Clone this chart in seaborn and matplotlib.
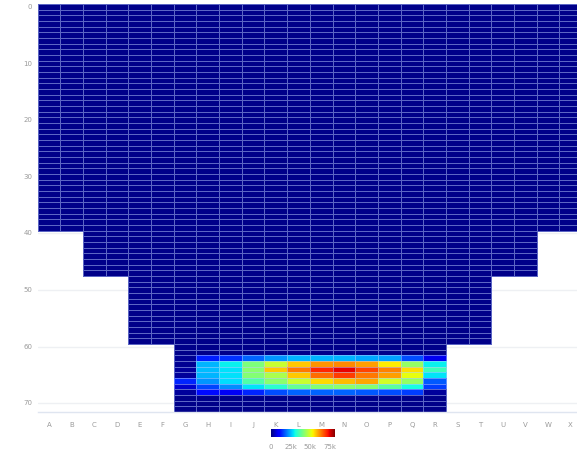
import numpy as np
import pandas as pd
import seaborn as sns
import matplotlib.pyplot as plt

# Grid layout: 72 rows, 24 lettered columns
columns = list("ABCDEFGHIJKLMNOPQRSTUVWX")
n_rows = 72

# Stepped tiers of the grid (inclusive row range, inclusive column range)
tier_first_row = [0, 40, 48, 60]
tier_last_row = [39, 47, 59, 71]
tier_first_col = ["A", "C", "E", "G"]
tier_last_col = ["X", "V", "T", "R"]
background_level = 800

# Hot zone: rows 62-68, columns G..R
hot_cols = list("GHIJKLMNOPQR")
row_62 = [1500, 12700, 14300, 18300, 22300, 24700, 24700, 24700, 23900, 23100, 16400, 8200]
row_63 = [1500, 24700, 29500, 41000, 48600, 57200, 61500, 62500, 60700, 54100, 43500, 29500]
row_64 = [2000, 25500, 28500, 42600, 57200, 64200, 71200, 74600, 68600, 63300, 55300, 34700]
row_65 = [2000, 24700, 28500, 41800, 45700, 57200, 65100, 69400, 64200, 60700, 51700, 28700]
row_66 = [13400, 22300, 28000, 36700, 42600, 48600, 55600, 58100, 59900, 49600, 43500, 17400]
row_67 = [5700, 15900, 21500, 28700, 32800, 38500, 41800, 42600, 41800, 37700, 30800, 15100]
row_68 = [2000, 11100, 8600, 13400, 16400, 18300, 18300, 18300, 17400, 16400, 15100, 2000]
hot_rows = {62: row_62, 63: row_63, 64: row_64, 65: row_65, 66: row_66, 67: row_67, 68: row_68}

color_limit = 82000
bar_ticks = [0, 25000, 50000, 75000]
bar_labels = ["0", "25k", "50k", "75k"]

grid = np.full((n_rows, len(columns)), np.nan)
for r0, r1, c0, c1 in zip(tier_first_row, tier_last_row, tier_first_col, tier_last_col):
    grid[r0:r1 + 1, columns.index(c0):columns.index(c1) + 1] = background_level
for r, vals in hot_rows.items():
    for c, v in zip(hot_cols, vals):
        grid[r, columns.index(c)] = v

df = pd.DataFrame(grid, columns=columns)

sns.set_style("white")
plt.rcParams["font.family"] = ["Liberation Sans Narrow", "DejaVu Sans"]

W, H = 577, 454
fig = plt.figure(figsize=(W / 100, H / 100), dpi=100)
ax = fig.add_axes([37.65 / W, 1 - 412 / H, 544.35 / W, 408 / H])
cax = fig.add_axes([271 / W, 1 - 437 / H, 64 / W, 8 / H])

edge_rgba = (0.72, 0.8, 1.0, 0.5)
sns.heatmap(
    df, ax=ax, cmap="jet", vmin=0, vmax=color_limit,
    linewidths=0.5, linecolor=edge_rgba,
    cbar_ax=cax,
    cbar_kws=dict(orientation="horizontal", ticks=bar_ticks),
)

# cell borders only around cells that hold a value
mesh = ax.collections[0]
edges = np.tile(np.array(edge_rgba), (grid.size, 1))
edges[np.isnan(grid).ravel(), 3] = 0.0
mesh.set_edgecolor(edges)

# y axis: every tenth row, light guide lines behind the cells
ytick_rows = list(range(0, n_rows, 10))
ax.set_yticks([r + 0.5 for r in ytick_rows])
ax.set_yticklabels([str(r) for r in ytick_rows], rotation=0, fontsize=5, color="#9a9a9a")
for r in ytick_rows:
    ax.axhline(r + 0.5, color="#eef0f3", lw=1.0, zorder=0)
ax.tick_params(axis="y", length=3, width=1, color="#eef0f3", pad=1)

# x axis: letters centred in columns, separator ticks on the boundaries
ax.set_xticks([i + 0.5 for i in range(len(columns))])
ax.set_xticklabels(columns, rotation=0, fontsize=5, color="#9a9a9a")
ax.set_xticks(range(len(columns) + 1), minor=True)
ax.tick_params(axis="x", which="major", length=0, pad=7)
ax.tick_params(axis="x", which="minor", length=10, width=0.8, color="#dfe5f0")
for side in ["top", "right", "left"]:
    ax.spines[side].set_visible(False)
ax.spines["bottom"].set_visible(True)
ax.spines["bottom"].set_color("#dfe5f0")
ax.spines["bottom"].set_linewidth(1)
ax.set_xlabel("")
ax.set_ylabel("")

# colour bar
cb = mesh.colorbar
cb.outline.set_visible(False)
cax.set_xticklabels(bar_labels)
cax.tick_params(axis="x", length=0, labelsize=5, labelcolor="#9a9a9a", pad=5)

fig.savefig("out.png", dpi=100)
